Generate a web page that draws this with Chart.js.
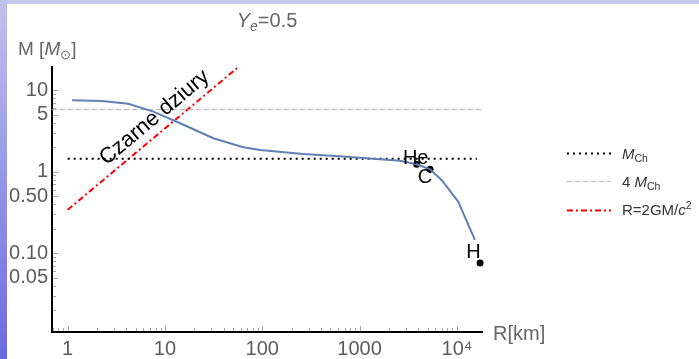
<!DOCTYPE html>
<html>
<head>
<meta charset="utf-8">
<script src="https://cdn.jsdelivr.net/npm/chart.js@4/dist/chart.umd.min.js"></script>
<style>
  html, body { margin: 0; padding: 0; background: #fff; }
  #wrap { position: relative; width: 699px; height: 359px; overflow: hidden; background: #fff;
          font-family: "Liberation Sans", Arial, sans-serif; }
  #bandTop { position: absolute; left: 0; top: 0; width: 699px; height: 4px; background: #c8c8ee; }
  #bandLeft { position: absolute; left: 0; top: 0; width: 7px; height: 359px;
              background: linear-gradient(#c2c2ee, #6a6ae0); }
  canvas { position: absolute; left: 0; top: 0; }
  .t { position: absolute; white-space: nowrap; line-height: 1; }
  .gray { color: #666; }
  .leg { color: #333; font-size: 15px; }
  sub, sup { font-size: 0.7em; line-height: 0; }
  sub { vertical-align: -0.3em; }
  sup { vertical-align: 0.55em; }
</style>
</head>
<body>
<div id="wrap">
  <div id="bandTop"></div>
  <div id="bandLeft"></div>
  <canvas id="c" width="699" height="359"></canvas>
  <div class="t gray" id="title" style="left:267px; top:10px; font-size:20px; transform:translateX(-50%);"><i>Y</i><sub><i>e</i></sub>=0.5</div>
  <div class="t gray" style="left:18px; top:39px; font-size:19px;">M [<i>M</i><sub>⊙</sub>]</div>
  <div class="t gray" style="left:493px; top:323px; font-size:20px;">R[km]</div>
  <div class="t leg" style="left:622px; top:146px;"><i>M</i><sub>Ch</sub></div>
  <div class="t leg" style="left:622px; top:174px;">4 <i>M</i><sub>Ch</sub></div>
  <div class="t leg" style="left:622px; top:202px;">R=2GM/<i>c</i><sup>2</sup></div>
</div>
<script>
// Mass–radius relation of cold stars with electron fraction Ye = 0.5
const curveR = [1.11, 2.24, 4.2, 7.6, 14.3, 31.4, 63.8, 95, 262, 676, 2600, 3860, 5290, 6950, 10300, 15300];
const curveM = [7.50, 7.35, 6.81, 5.44, 3.92, 2.57, 1.99, 1.84, 1.65, 1.53, 1.36, 1.23, 1.07, 0.79, 0.43, 0.146];

// Marked compositions
const starNames = ['He', 'C', 'H'];
const starR = [3860, 5290, 17300];
const starM = [1.23, 1.07, 0.076];

// Chandrasekhar mass and four times it
const mCh = 1.44;
const fourMCh = 5.76;
const mChR = [1, 16000];
const fourMChR = [0.69, 18100];

// Schwarzschild line R = 2GM/c^2
const bhR = [1, 55];
const bhM = [0.34, 18.6];

// Axis ticks
const xTickValues = [1, 10, 100, 1000, 10000];
const xTickLabels = ['1', '10', '100', '1000', '10⁴'];
const yTickValues = [0.05, 0.1, 0.5, 1, 5, 10];
const yTickLabels = ['0.05', '0.10', '0.50', '1', '5', '10'];

const FONT = '"Liberation Sans", Arial, sans-serif';
const TICK_COLOR = '#5c5c5c';

const pts = (xs, ys) => xs.map((v, i) => ({ x: v, y: ys[i] }));
const hline = (xs, yv) => xs.map(v => ({ x: v, y: yv }));

const overlay = {
  id: 'overlay',
  afterDraw(chart) {
    const { ctx, chartArea: a } = chart;
    const xs = chart.scales.x, ys = chart.scales.y;
    ctx.save();

    // small log ticks pointing into the plot
    ctx.strokeStyle = '#a8a8a8';
    ctx.lineWidth = 1;
    for (let e = -2; e <= 1; e++) {
      for (let k = 1; k <= 9; k++) {
        const v = k * Math.pow(10, e);
        if (v < ys.min || v > ys.max) continue;
        const major = yTickValues.some(t => Math.abs(t - v) / t < 1e-6);
        const p = Math.round(ys.getPixelForValue(v)) + 0.5;
        ctx.beginPath();
        ctx.moveTo(a.left + 1, p);
        ctx.lineTo(a.left + 1 + (major ? 5 : 3), p);
        ctx.stroke();
      }
    }
    for (let e = -1; e <= 4; e++) {
      for (let k = 1; k <= 9; k++) {
        const v = k * Math.pow(10, e);
        if (v < xs.min || v > xs.max) continue;
        const major = xTickValues.some(t => Math.abs(t - v) / t < 1e-6);
        const p = Math.round(xs.getPixelForValue(v)) + 0.5;
        ctx.beginPath();
        ctx.moveTo(p, a.bottom - 1);
        ctx.lineTo(p, a.bottom - 1 - (major ? 5 : 3));
        ctx.stroke();
      }
    }

    // composition labels next to their points
    const shift = [[-1, 0], [-5, 14], [-6.5, -5]];
    ctx.fillStyle = '#000';
    ctx.font = '20px ' + FONT;
    ctx.textAlign = 'center';
    ctx.textBaseline = 'alphabetic';
    starNames.forEach((n, i) => {
      const px = xs.getPixelForValue(starR[i]);
      const py = ys.getPixelForValue(starM[i]);
      ctx.fillText(n, px + shift[i][0], py + shift[i][1]);
    });

    // "Czarne dziury" written along the Schwarzschild line
    const x1 = xs.getPixelForValue(bhR[0]), y1 = ys.getPixelForValue(bhM[0]);
    const x2 = xs.getPixelForValue(bhR[1]), y2 = ys.getPixelForValue(bhM[1]);
    const ang = Math.atan2(y2 - y1, x2 - x1);
    const t = 0.57;
    const mx = x1 + (x2 - x1) * t, my = y1 + (y2 - y1) * t;
    const off = 15;
    const cx = mx + Math.sin(ang) * off, cy = my - Math.cos(ang) * off;
    ctx.translate(cx, cy);
    ctx.rotate(ang);
    ctx.font = '22px ' + FONT;
    ctx.textBaseline = 'middle';
    ctx.fillText('Czarne dziury', 0, 0);
    ctx.setTransform(1, 0, 0, 1, 0, 0);

    // legend samples
    const sample = (y, color, width, dash) => {
      ctx.beginPath();
      ctx.strokeStyle = color;
      ctx.lineWidth = width;
      ctx.setLineDash(dash);
      ctx.moveTo(567, y);
      ctx.lineTo(611, y);
      ctx.stroke();
    };
    sample(153.5, '#000', 2, [2, 4]);
    sample(181.5, '#b8b8b8', 1, [5, 3]);
    sample(210.5, '#ff0000', 2, [6, 3, 2, 3]);
    ctx.restore();
  }
};

new Chart(document.getElementById('c'), {
  type: 'scatter',
  data: {
    datasets: [
      { data: pts(curveR, curveM), showLine: true, borderColor: '#5E81B5', borderWidth: 2,
        pointRadius: 0, tension: 0, fill: false },
      { data: hline(mChR, mCh), showLine: true, borderColor: '#000', borderWidth: 2,
        borderDash: [2, 4], pointRadius: 0 },
      { data: hline(fourMChR, fourMCh), showLine: true, borderColor: '#b0b0b0', borderWidth: 1,
        borderDash: [5, 3], pointRadius: 0 },
      { data: pts(bhR, bhM), showLine: true, borderColor: '#ff0000', borderWidth: 2,
        borderDash: [6, 3, 2, 3], pointRadius: 0 },
      { data: pts(starR, starM), showLine: false, pointRadius: 3.5, pointBorderWidth: 0,
        pointBackgroundColor: '#000', clip: 8 }
    ]
  },
  options: {
    responsive: false,
    animation: false,
    events: [],
    layout: { padding: { left: 7, right: 217, top: 67, bottom: 0 } },
    plugins: { legend: { display: false }, tooltip: { enabled: false } },
    scales: {
      x: {
        type: 'logarithmic', min: 0.69, max: 18100, bounds: 'data',
        afterBuildTicks(s) { s.ticks = xTickValues.map(v => ({ value: v })); },
        afterFit(s) { s.height = 27; },
        grid: { drawOnChartArea: false, drawTicks: false },
        border: { color: '#000', width: 2 },
        ticks: { callback: (v, i) => xTickLabels[i], color: TICK_COLOR, padding: 5,
                 autoSkip: false, maxRotation: 0, font: { family: FONT, size: 20 } }
      },
      y: {
        type: 'logarithmic', min: 0.0108, max: 19.2, bounds: 'data',
        afterBuildTicks(s) { s.ticks = yTickValues.map(v => ({ value: v })); },
        afterFit(s) { s.width = 45; },
        grid: { drawOnChartArea: false, drawTicks: false },
        border: { color: '#000', width: 2 },
        ticks: { callback: (v, i) => yTickLabels[i], color: TICK_COLOR, padding: 4,
                 autoSkip: false, font: { family: FONT, size: 20 } }
      }
    }
  },
  plugins: [overlay]
});
</script>
</body>
</html>
